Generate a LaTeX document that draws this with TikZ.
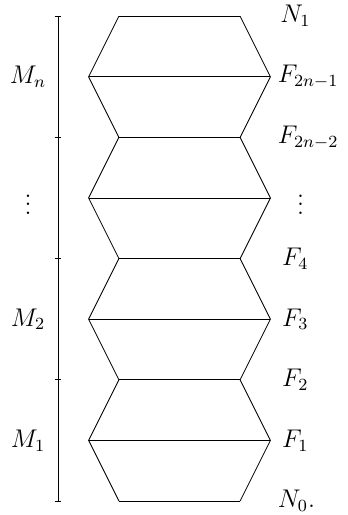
\documentclass[tikz,border=0pt]{standalone}
\usepackage{amsmath}
\usetikzlibrary{calc}

\begin{document}
\begin{tikzpicture}[scale=1,every node/.style={font=\large}]
  \useasboundingbox (-2.962,-0.231) rectangle (2.764,8.267);
  \draw (-1,0) -- (-1.5,1) -- (-1,2) -- (-1.5,3) -- (-1,4) -- (-1.5,5) -- (-1,6) -- (-1.5,7) -- (-1,8);
  \draw (1,0) -- (1.5,1) -- (1,2) -- (1.5,3) -- (1,4) -- (1.5,5) -- (1,6) -- (1.5,7) -- (1,8);
  \draw (-1,0) -- (1,0);
  \draw (-1.5,1) -- (1.5,1);
  \draw (-1,2) -- (1,2);
  \draw (-1.5,3) -- (1.5,3);
  \draw (-1,4) -- (1,4);
  \draw (-1.5,5) -- (1.5,5);
  \draw (-1,6) -- (1,6);
  \draw (-1.5,7) -- (1.5,7);
  \draw (-1,8) -- (1,8);
  \draw (-2,0) -- (-2,8);
  \draw (-2.06,0) -- (-1.95,0);
  \draw (-2.06,2) -- (-1.95,2);
  \draw (-2.06,4) -- (-1.95,4);
  \draw (-2.06,6) -- (-1.95,6);
  \draw (-2.06,8) -- (-1.95,8);
  \node (mn) at (-2.5,7) {$M_n$};
  \node (mdots) at (-2.5,5) {$\vdots$};
  \node (mtwo) at (-2.5,3) {$M_2$};
  \node (mone) at (-2.5,1) {$M_1$};
  \node[right] (none) at (1.54,8) {$N_1$};
  \node[right] (fodd) at (1.5,7) {$F_{2n-1}$};
  \node[right] (feven) at (1.5,6) {$F_{2n-2}$};
  \node (fdots) at (2.0,5) {$\vdots$};
  \node[right] (ffour) at (1.57,4) {$F_4$};
  \node[right] (fthree) at (1.57,3) {$F_3$};
  \node[right] (ftwo) at (1.57,2) {$F_2$};
  \node[right] (fone) at (1.57,1) {$F_1$};
  \node[right] (nzero) at (1.5,0) {$N_0.$};
\end{tikzpicture}
\end{document}
